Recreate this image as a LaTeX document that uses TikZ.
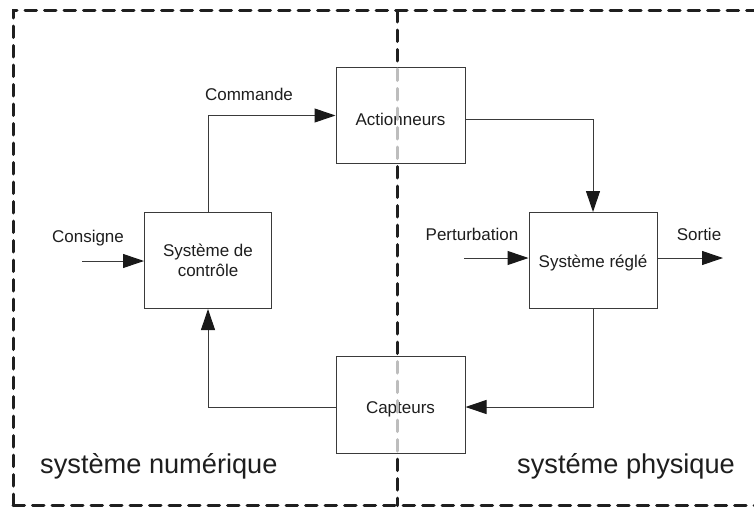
\documentclass[tikz,border=0pt]{standalone}
\usepackage{fontspec}
\setmainfont{Liberation Sans}
\usetikzlibrary{arrows.meta,calc}
\definecolor{linec}{HTML}{3A3A3A}
\definecolor{textc}{HTML}{1E1E1E}
\tikzset{
  blk/.style={draw=linec, line width=1pt, fill=white, minimum width=129pt, minimum height=96pt, align=center, inner sep=0pt, text=textc, font=\fontsize{17}{20.5}\selectfont},
  conn/.style={draw=linec, line width=1pt},
  arr/.style={conn, -{Triangle[length=21pt,width=14pt,fill=black!90,color=black!90]}},
  lbl/.style={text=textc, inner sep=0pt, font=\fontsize{17}{20}\selectfont},
  biglbl/.style={text=textc, inner sep=0pt, anchor=west, font=\fontsize{27.2}{30}\selectfont},
  border/.style={line width=3pt, line cap=round, dash pattern=on 11.5pt off 8pt},
}
\begin{document}
\begin{tikzpicture}[x=1pt,y=-1pt]
\clip (0,0) rectangle (754,514);
\fill[white] (0,0) rectangle (754,514);
% dashed frames
\draw[border, black!88] (13,505.5) -- (13,10.5) -- (770,10.5);
\draw[border, black!88] (13,505.5) -- (770,505.5);
\draw[border, black!88] (397,10.5) -- (397,505.5);
% boxes
\node[blk, text height=20pt, text depth=0.3pt] (act) at (400.5,115.5) {Actionneurs};
\node[blk, minimum width=127pt] (ctrl) at (208,260.5) {Système de\\contrôle};
\node[blk, minimum width=128pt, text height=18pt, text depth=3.6pt] (reg) at (593,260.5) {Système réglé};
\node[blk, minimum height=97pt, text height=22pt, text depth=3.6pt] (cap) at (400.5,404.5) {Capteurs};
% gray part of the separator inside the boxes
\begin{scope}
\clip (act.south west) rectangle (act.north east) (cap.south west) rectangle (cap.north east);
\draw[border, black!26] (397,10.5) -- (397,505.5);
\end{scope}
% connectors
\coordinate (cin) at (82,261);
\coordinate (pin) at (464,258);
\coordinate (sout) at (723,258);
\draw[arr] (cin) -- (cin -| ctrl.west);
\draw[arr] (ctrl.north) |- (act.west);
\draw[arr] ([yshift=-4pt]act.east) -| (reg.north);
\draw[arr] (pin) -- (pin -| reg.west);
\draw[arr] (pin -| reg.east) -- (sout);
\draw[arr] (reg.south) |- ([yshift=-2.5pt]cap.east);
\draw[arr] ([yshift=-2.5pt]cap.west) -| (ctrl.south);
% labels
\node[lbl] (lcons) at (88,238) {Consigne};
\node[lbl] (lcom) at (249,94) {Commande};
\node[lbl] (lpert) at (472,234) {Perturbation};
\node[lbl] (lsort) at (699,234) {Sortie};
\node[biglbl] (lnum) at (40,466) {système numérique};
\node[biglbl] (lphy) at (517,466) {systéme physique};
\end{tikzpicture}
\end{document}
